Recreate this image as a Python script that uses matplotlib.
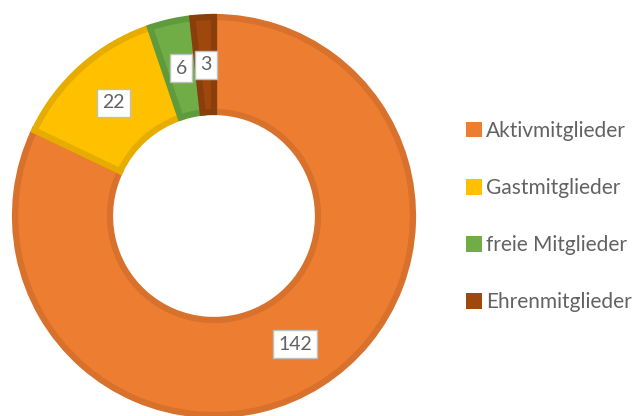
import matplotlib.pyplot as plt
from matplotlib.patches import Patch
import numpy as np

labels = ["Aktivmitglieder", "Gastmitglieder", "freie Mitglieder", "Ehrenmitglieder"]
values = [142, 22, 6, 3]
colors = ["#ED7D31", "#FFC000", "#70AD47", "#9E480E"]
edges = ["#D8712C", "#E6AD00", "#5F9A3C", "#8A3E0C"]

plt.rcParams['font.family'] = ['Lato', 'DejaVu Sans']
txt = "#626262"

fig = plt.figure(figsize=(6.35, 4.16), dpi=100)
ax = fig.add_axes([12 / 635, (416 - 216 - 202) / 416, 404 / 635, 404 / 416])

wedges, _ = ax.pie(values, colors=colors, startangle=90, counterclock=False,
                   radius=0.985, wedgeprops=dict(width=0.47, linewidth=4.5))
for w, ec in zip(wedges, edges):
    w.set_edgecolor(ec)

# value labels in small white boxes
total = sum(values)
cum = 0
for v in values:
    mid = 90 - (cum + v / 2) / total * 360
    cum += v
    r = 0.75
    ax.text(r * np.cos(np.radians(mid)), r * np.sin(np.radians(mid)), str(v),
            ha="center", va="center", fontsize=14, color=txt,
            bbox=dict(boxstyle="square,pad=0.28", fc="white", ec="#BFBFBF", lw=1))

ax.set_xlim(-1, 1)
ax.set_ylim(-1, 1)
ax.set_aspect("equal")
ax.axis("off")

handles = [Patch(facecolor=c, edgecolor="none") for c in colors]
fig.legend(handles, labels, loc="center left", bbox_to_anchor=(0.705, 0.479),
           frameon=False, labelcolor=txt, handlelength=0.75,
           handleheight=0.75, handletextpad=0.2, labelspacing=1.78,
           prop=dict(family=['Lato', 'DejaVu Sans'], size=15))

fig.savefig("out.png", dpi=100)
